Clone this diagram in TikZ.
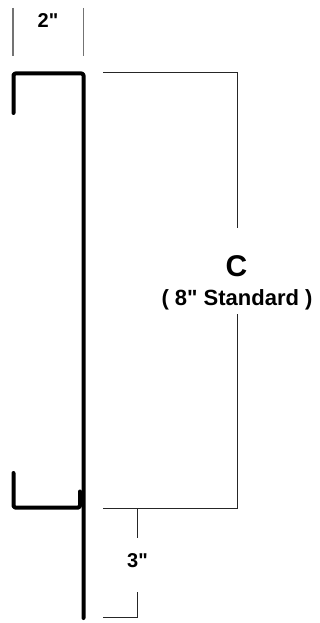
\documentclass[tikz,border=0pt]{standalone}
\usepackage{fontspec}
\newfontfamily\labelfont{Liberation Sans}
\tikzset{
  profile/.style={line width=4pt,black,line cap=round,line join=round},
  dimline/.style={line width=0.9pt,black!85},
  tickline/.style={line width=1.2pt,black!55},
  smalllabel/.style={font=\labelfont\bfseries\fontsize{20}{22}\selectfont,inner sep=0pt},
  stdlabel/.style={font=\labelfont\bfseries\fontsize{22}{24}\selectfont,inner sep=0pt},
  biglabel/.style={font=\labelfont\bfseries\fontsize{30}{32}\selectfont,inner sep=0pt}
}
\begin{document}
\begin{tikzpicture}[x=1pt,y=-1pt]
\useasboundingbox[fill=white] (0,0) rectangle (320,623);
% profile
\coordinate (tl) at (13.5,73.5);
\coordinate (tr) at (83.5,73.5);
\coordinate (lipt) at (13.5,113);
\coordinate (bot) at (83.5,618);
\coordinate (ll) at (13.5,507.5);
\coordinate (llt) at (13.5,473);
\coordinate (lr) at (80,507.5);
\coordinate (lrt) at (80,491.5);
\draw[profile,rounded corners=2pt] (lipt) -- (tl) -- (tr) -- (bot);
\draw[profile,rounded corners=1.5pt] (llt) -- (ll) -- (lr) -- (lrt);
% width ticks
\coordinate (ta1) at (13,8); \coordinate (ta2) at (13,56);
\coordinate (tb1) at (83.5,8); \coordinate (tb2) at (83.5,56);
\draw[tickline] (ta1) -- (ta2);
\draw[tickline] (tb1) -- (tb2);
\node[smalllabel] (two) at (48,21) {2"};
% C dimension
\coordinate (c1) at (103,72);
\coordinate (c2) at (237,72);
\coordinate (c3) at (237,228);
\coordinate (c4) at (237,314);
\coordinate (c5) at (237,508);
\coordinate (c6) at (103,508);
\draw[dimline] (c1) -- (c2) -- (c3);
\draw[dimline] (c4) -- (c5) -- (c6);
\node[biglabel] (cc) at (236.5,266) {C};
\node[stdlabel] (std) at (237,300) {( 8" Standard )};
% 3 inch dimension
\coordinate (d1) at (137,508);
\coordinate (d2) at (137,538);
\coordinate (d3) at (137,592);
\coordinate (d4) at (137,617);
\coordinate (d5) at (103,617);
\draw[dimline] (d1) -- (d2);
\draw[dimline] (d3) -- (d4) -- (d5);
\node[smalllabel] (three) at (137.5,561) {3"};
\end{tikzpicture}
\end{document}
